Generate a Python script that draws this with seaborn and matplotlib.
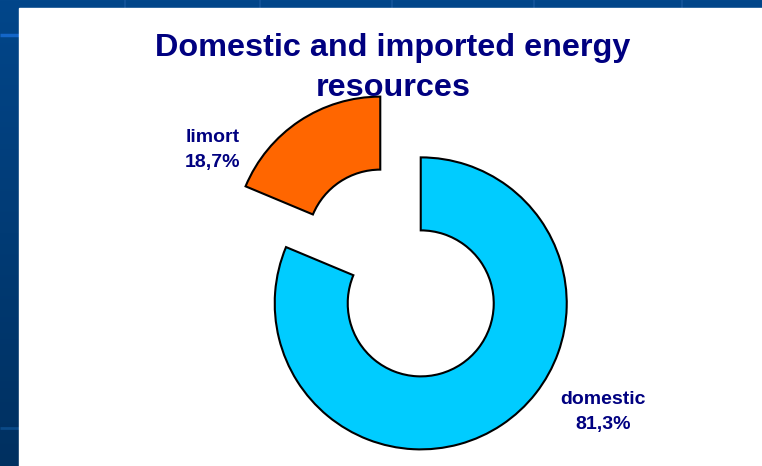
import numpy as np
import matplotlib
matplotlib.use("Agg")
import matplotlib.pyplot as plt
import seaborn as sns
from matplotlib.patches import Rectangle
from matplotlib.colors import LinearSegmentedColormap

# ---- data ----
labels = ["limort", "domestic"]
shares = [18.7, 81.3]
colors = ["#FF6600", "#00CCFF"]
title = "Domestic and imported energy\nresources"

sns.set_theme(style="white")
plt.rcParams["font.family"] = ["Liberation Sans", "DejaVu Sans"]

W, H = 762, 466
fig = plt.figure(figsize=(W / 100, H / 100), dpi=100)

# slide background
bg = fig.add_axes([0, 0, 1, 1])
bg.set_axis_off()
cmap = LinearSegmentedColormap.from_list("b", ["#02468a", "#003060"])
bg.imshow(np.linspace(0, 1, 256).reshape(-1, 1), aspect="auto", cmap=cmap,
          extent=[0, W, H, 0], zorder=0)
for x in [125, 260, 392, 534, 682]:
    bg.plot([x, x], [0, 8], color="#14549a", lw=1.2, solid_capstyle="butt",
            zorder=1)
bg.plot([0, 19], [35, 35], color="#1466c8", lw=2.5, solid_capstyle="butt",
        zorder=1)
bg.plot([0, 19], [428, 428], color="#0b4a88", lw=2, solid_capstyle="butt",
        zorder=1)
bg.add_patch(Rectangle((19, 8), W - 19, H - 8, color="white", zorder=3))
bg.set_xlim(0, W)
bg.set_ylim(H, 0)

# doughnut
ax = fig.add_axes([0, 0, 1, 1])
R = 146
ax.pie(shares, colors=colors, startangle=90, counterclock=True,
       radius=R, center=(400.5, H - 273), explode=[0.25 * R] * 2,
       wedgeprops=dict(width=0.5 * R, edgecolor="black", linewidth=1.5),
       frame=False)
ax.set_xlim(0, W)
ax.set_ylim(0, H)
ax.set_axis_off()

label_pos = [(213, H - 150), (603, H - 412)]
for lab, val, (x, y) in zip(labels, shares, label_pos):
    ax.text(x, y, f"{lab}\n{val:.1f}%".replace(".", ","), ha="center",
            va="center", fontsize=14, fontweight="bold", color="#000080",
            linespacing=1.65)

fig.text(393 / W, 1 - 68 / H, title, ha="center", va="center", fontsize=23.3,
         fontweight="bold", color="#000080", linespacing=1.4)

fig.savefig("out.png", dpi=100)
